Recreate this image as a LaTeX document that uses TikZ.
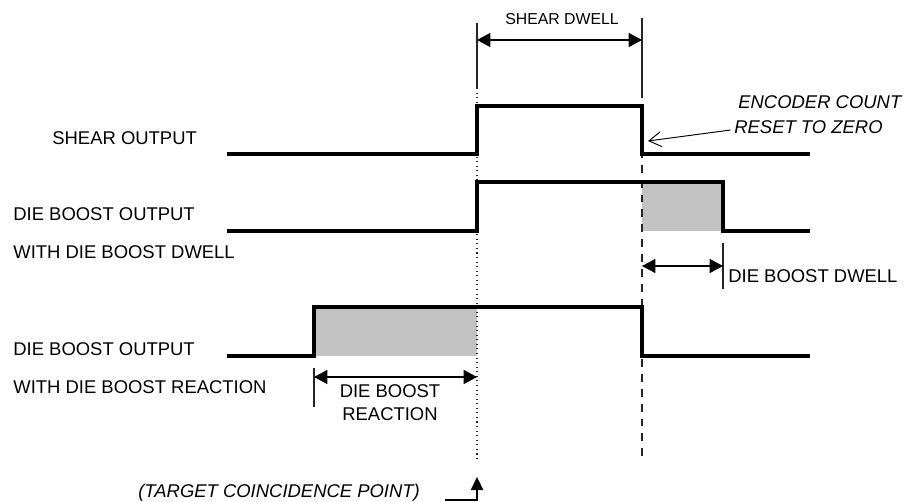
\documentclass[tikz,border=0pt]{standalone}
\usepackage{fontspec}
\setmainfont{Liberation Sans}
\usetikzlibrary{arrows.meta,positioning,calc}
\tikzstyle{signal}=[line width=1.8pt, line join=miter, line cap=rect]
\tikzstyle{boostfill}=[fill=black!24]
\tikzstyle{ext}=[line width=0.6pt, black!85]
\tikzstyle{dim}=[line width=0.6pt,
                 {Triangle[length=7.6pt,width=8pt]}-{Triangle[length=7.6pt,width=8pt]}]
\tikzstyle{lbl}=[inner sep=0pt, anchor=base west,
                 font=\fontsize{10.5pt}{12.5pt}\selectfont]

\begin{document}
\begin{tikzpicture}[x=0.02cm, y=-0.02cm]
    \useasboundingbox (0,0) rectangle (908,501);

    % time marks
    \coordinate (s) at (229,0);
    \coordinate (r) at (314,0);
    \coordinate (t) at (477,0);
    \coordinate (e) at (642,0);
    \coordinate (d) at (723,0);
    \coordinate (f) at (808,0);

    % shaded boosts
    \fill[boostfill] (e |- 0,182) rectangle (d |- 0,231);
    \fill[boostfill] (r |- 0,307) rectangle (t |- 0,356);

    % extension lines
    \draw[ext] (t |- 0,23) coordinate (t1) -- (t |- 0,88) coordinate (t2);
    \draw[ext,dotted] (t2) -- (t |- 0,462) coordinate (t3);
    \draw[ext] (e |- 0,18) coordinate (e1) -- (e |- 0,90) coordinate (e2);
    \draw[ext,dash pattern=on 4.5pt off 4pt] (e2) -- (e |- 0,460);
    \draw[ext] (d |- 0,243) -- (d |- 0,289);
    \draw[ext] (r |- 0,368) -- (r |- 0,407);

    % signals
    \draw[signal] (s |- 0,154) -| (t |- 0,106) -| (e |- 0,154) -- (f |- 0,154);
    \draw[signal] (s |- 0,231) -| (t |- 0,182) -| (d |- 0,231) -- (f |- 0,231);
    \draw[signal] (s |- 0,356) -| (r |- 0,307) -| (e |- 0,356) -- (f |- 0,356);

    % dimensions
    \draw[dim] (t |- 0,40) coordinate (a1) -- (e |- 0,40) coordinate (a2);
    \draw[dim] (e |- 0,266) coordinate (b1) -- (d |- 0,266) coordinate (b2);
    \draw[dim] (r |- 0,377) coordinate (c1) -- (t |- 0,377) coordinate (c2);

    \node (sd) [inner sep=0pt, anchor=base, font=\fontsize{9pt}{11pt}\selectfont]
        at (562,24) {SHEAR DWELL};
    \node (bd) [lbl] at (728,282) {DIE BOOST DWELL};
    \node (br1) [lbl, anchor=base] at (390,397) {DIE BOOST};
    \node (br2) [lbl, anchor=base] at (390,420) {REACTION};

    % row labels
    \foreach \i/\x/\y/\t in {1/52/144/SHEAR OUTPUT,
                             2/13/220/DIE BOOST OUTPUT,
                             3/13/258.6/WITH DIE BOOST DWELL,
                             4/13/355/DIE BOOST OUTPUT,
                             5/13/393/WITH DIE BOOST REACTION}
        \node (row\i) [lbl] at (\x,\y) {\t};

    % encoder note
    \node (enc1) [lbl] at (738,108) {\itshape ENCODER COUNT};
    \node (enc2) [lbl] at (734,133) {\itshape RESET TO ZERO};
    \coordinate (encTip) at (648,141);
    \draw[line width=0.55pt, -{Straight Barb[length=7pt,width=8.5pt]}]
        ([xshift=-2pt]enc2.west |- 0,130) -- (encTip);

    % target point
    \node (tgt) [lbl] at (138,497) {\itshape (TARGET COINCIDENCE POINT)};
    \coordinate (tgtA) at (445,500);
    \draw[line width=0.6pt, -{Triangle[length=7.4pt,width=7pt]}]
        (tgtA) -| (t |- 0,477);
\end{tikzpicture}
\end{document}
